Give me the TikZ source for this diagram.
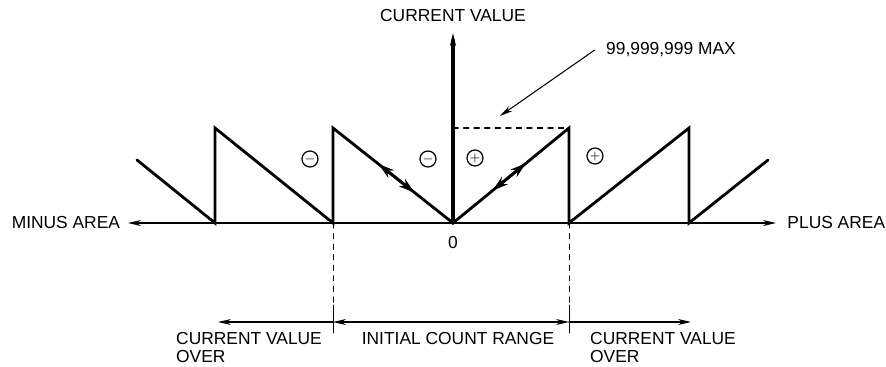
\documentclass[tikz,border=0pt]{standalone}
\usepackage{fontspec}
\setmainfont{Liberation Sans}
\usetikzlibrary{arrows.meta,calc}

\begin{document}
\begin{tikzpicture}[>={Stealth[length=2.6mm,width=1.2mm]},font=\fontsize{9.9}{10.5}\selectfont,line cap=round,
  saw/.style={line width=1.6pt,line join=miter},
  slope/.style={line width=1.6pt,-{Stealth[length=3.2mm,width=1.9mm]}},
  sign/.style={circle,draw,line width=0.7pt,minimum size=0.32cm,inner sep=0pt,font=\scriptsize}]
\useasboundingbox (0,0) rectangle (17.72,7.32);
% axes
\coordinate (O) at (9.06,2.86);
\coordinate (xl) at (2.56,2.86);
\coordinate (xr) at (15.52,2.86);
\coordinate (yt) at (9.06,6.66);
\draw[<->,line width=1pt] (xl) -- (xr);
\draw[->,line width=1.8pt] (O) -- (yt);
\node[above=3pt] (cv) at (yt) {CURRENT VALUE};
\node[left=1pt] (minus) at (xl) {MINUS AREA};
\node[right=3pt] (plus) at (xr) {PLUS AREA};
\node[below=4pt] (zero) at (O) {0};
% sawtooth
\coordinate (Lend) at (2.74,4.12);
\coordinate (LLbot) at (4.30,2.86);
\coordinate (LLtop) at (4.30,4.76);
\coordinate (Lbot) at (6.66,2.86);
\coordinate (Ltop) at (6.66,4.76);
\coordinate (Rtop) at (11.38,4.76);
\coordinate (Rbot) at (11.38,2.86);
\coordinate (RRtop) at (13.78,4.76);
\coordinate (RRbot) at (13.78,2.86);
\coordinate (Rend) at (15.36,4.12);
\draw[saw] (Lend) -- (LLbot) -- (LLtop) -- (Lbot) -- (Ltop) -- (O) -- (Rtop) -- (Rbot) -- (RRtop) -- (RRbot) -- (Rend);
\draw[slope] ($(Ltop)!0.52!(O)$) -- ($(Ltop)!0.38!(O)$);
\draw[slope] ($(Ltop)!0.52!(O)$) -- ($(Ltop)!0.68!(O)$);
\draw[slope] ($(O)!0.48!(Rtop)$) -- ($(O)!0.34!(Rtop)$);
\draw[slope] ($(O)!0.48!(Rtop)$) -- ($(O)!0.63!(Rtop)$);
% max value
\coordinate (M) at (9.06,4.76);
\draw[dashed,line width=0.6pt] (M) -- (Rtop);
\node (max) at (13.42,6.32) {99,999,999 MAX};
\coordinate (maxtip) at (10.00,5.00);
\draw[->,line width=0.6pt] ([xshift=-3pt]max.west) -- (maxtip);
% signs
\node[sign] (s1) at (6.20,4.14) {$-$};
\node[sign] (s2) at (8.56,4.14) {$-$};
\node[sign] (s3) at (9.50,4.16) {$+$};
\node[sign] (s4) at (11.90,4.20) {$+$};
% ranges
\coordinate (dlm) at (6.66,1.22);
\coordinate (dl) at (6.66,0.66);
\coordinate (drm) at (11.38,1.22);
\coordinate (dr) at (11.38,0.66);
\draw[dashed,line width=0.5pt] (Lbot) -- (dlm);
\draw[line width=0.5pt] (dlm) -- (dl);
\draw[dashed,line width=0.5pt] (Rbot) -- (drm);
\draw[line width=0.5pt] (drm) -- (dr);
\coordinate (rl) at (6.66,0.88);
\coordinate (rr) at (11.38,0.88);
\coordinate (ol) at (4.36,0.88);
\coordinate (or) at (13.82,0.88);
\draw[->,line width=0.6pt] (rl) -- (ol);
\draw[<->,line width=0.6pt] (rl) -- (rr);
\draw[->,line width=0.6pt] (rr) -- (or);
\node[anchor=north west,align=left] (overl) at (3.40,0.80) {CURRENT VALUE\\OVER};
\node[anchor=north] (init) at (9.16,0.80) {INITIAL COUNT RANGE};
\node[anchor=north west,align=left] (overr) at (11.68,0.80) {CURRENT VALUE\\OVER};
\end{tikzpicture}
\end{document}
